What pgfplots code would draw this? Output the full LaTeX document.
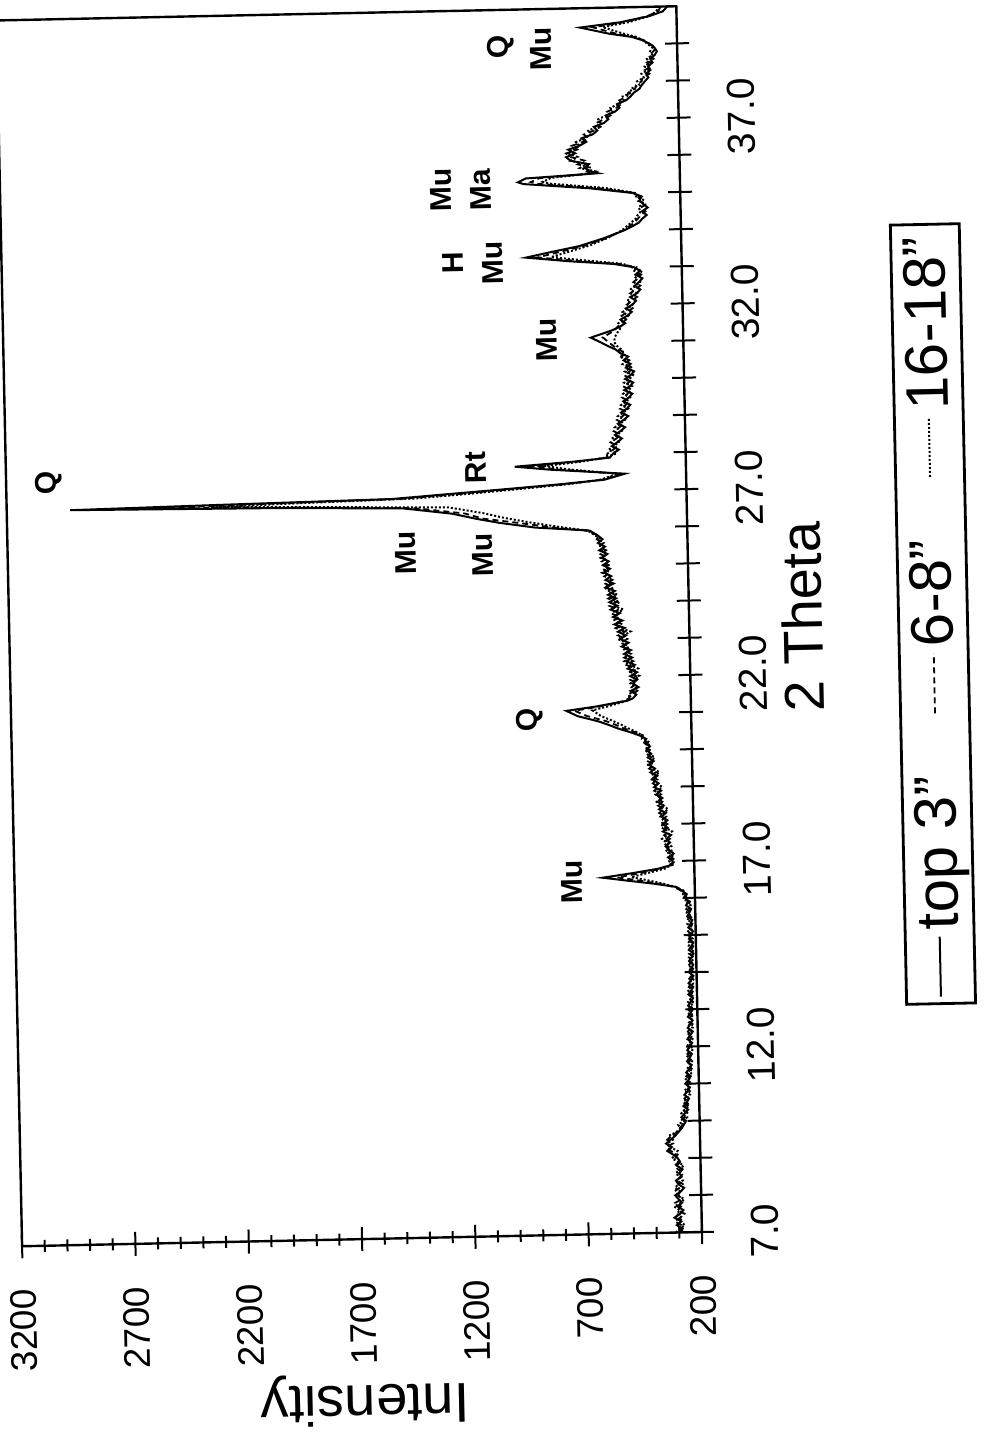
\documentclass[border=0pt]{standalone}
\usepackage{fontspec}
\setmainfont{Liberation Sans}
\usepackage{pgfplots}
\pgfplotsset{compat=1.18}
\usepackage{pgfplotstable}
\usepackage{graphicx}

\pgfplotstableread{
t S D T
7.0 300 280 315
7.1 285 300 295
7.2 310 290 275
7.3 290 320 300
7.4 320 295 285
7.5 295 275 310
7.6 280 305 295
7.7 305 290 320
7.8 285 315 290
7.9 300 285 275
8.0 315 300 305
8.1 290 320 290
8.2 275 295 315
8.3 300 280 300
8.4 310 305 280
8.5 285 290 295
8.6 295 275 310
8.7 280 300 290
8.8 305 315 275
8.9 290 295 300
9.0 300 310 325
9.1 320 300 310
9.2 345 330 300
9.3 325 350 335
9.4 350 320 345
9.5 330 345 320
9.6 310 325 340
9.7 295 300 305
9.8 280 290 285
9.9 270 275 295
10.0 260 285 270
10.1 280 265 255
10.2 265 250 280
10.3 250 275 265
10.4 270 260 245
10.5 255 245 270
10.6 245 265 255
10.7 265 250 240
10.8 250 240 265
10.9 240 260 250
11.0 260 245 235
11.1 245 235 260
11.2 235 255 245
11.3 255 240 230
11.4 240 230 250
11.5 230 250 240
11.6 250 240 228
11.7 238 228 252
11.8 228 248 238
11.9 248 236 226
12.0 236 226 250
12.1 226 246 236
12.2 246 234 224
12.3 234 224 246
12.4 222 244 232
12.5 244 232 222
12.6 232 222 244
12.7 222 242 230
12.8 242 230 220
12.9 230 220 242
13.0 220 240 230
13.1 240 228 218
13.2 228 218 240
13.3 218 238 226
13.4 238 226 216
13.5 226 216 238
13.6 216 236 226
13.7 236 224 216
13.8 224 214 236
13.9 214 234 222
14.0 234 222 214
14.1 222 214 234
14.2 214 232 222
14.3 232 220 212
14.4 220 212 232
14.5 212 232 220
14.6 232 220 212
14.7 220 212 232
14.8 212 232 222
14.9 230 222 214
15.0 220 214 234
15.1 212 234 222
15.2 232 222 214
15.3 222 214 236
15.4 214 236 224
15.5 236 224 216
15.6 226 218 238
15.7 218 240 228
15.8 240 230 220
15.9 230 222 244
16.0 244 250 236
16.1 236 240 252
16.2 258 262 250
16.3 280 290 285
16.4 380 360 340
16.5 500 450 410
16.59 605 541 479
16.7 470 430 400
16.8 360 350 330
16.9 295 310 300
17.0 295 280 310
17.1 315 300 290
17.2 290 320 305
17.3 310 295 325
17.4 325 315 300
17.5 305 335 320
17.6 320 305 340
17.7 300 330 315
17.8 335 310 295
17.9 315 340 325
18.0 335 315 345
18.1 315 340 320
18.2 340 320 345
18.3 320 350 330
18.4 350 330 310
18.5 330 355 340
18.6 355 335 360
18.7 335 360 340
18.8 360 340 365
18.9 340 370 350
19.0 370 350 335
19.1 350 375 360
19.2 375 355 380
19.3 355 385 365
19.4 385 360 345
19.5 365 390 375
19.6 390 370 395
19.7 370 395 380
19.8 395 380 365
19.9 380 400 390
20.0 400 385 405
20.1 385 410 395
20.2 410 395 385
20.3 400 420 410
20.4 430 415 420
20.5 475 455 445
20.6 525 500 480
20.7 565 535 510
20.8 610 575 545
20.95 700 660 600
21.1 750 714 635
21.2 620 600 565
21.34 480 490 480
21.4 455 475 465
21.5 440 460 475
21.6 465 435 450
21.7 430 460 440
21.8 455 435 465
21.9 435 465 445
22.0 465 440 425
22.1 435 470 460
22.2 475 445 430
22.3 445 480 465
22.4 480 450 490
22.5 455 490 460
22.6 490 460 485
22.7 460 495 470
22.8 500 465 495
22.9 470 505 475
23.0 505 475 515
23.1 480 515 490
23.2 515 485 460
23.3 485 525 505
23.4 530 495 525
23.5 495 535 500
23.6 535 505 530
23.7 505 545 515
23.8 545 510 490
23.9 515 550 535
24.0 550 520 505
24.1 520 555 545
24.2 555 525 515
24.3 525 560 550
24.4 565 530 570
24.5 530 565 540
24.6 565 535 560
24.7 540 570 545
24.8 570 545 580
24.9 545 575 555
25.0 575 550 565
25.1 550 580 555
25.2 580 555 585
25.3 555 585 560
25.4 590 560 580
25.5 565 590 570
25.6 595 570 585
25.7 575 600 580
25.8 595 590 605
25.94 631 645 640
26.05 870 800 760
26.2 1030 960 900
26.32 1130 1100 1000
26.47 1235 1180 1100
26.64 1450 1400 1250
26.72 2000 1900 1800
26.78 2920 2550 2300
26.84 2250 2050 1900
26.9 1500 1450 1400
27.0 1250 1200 1150
27.1 1000 960 930
27.2 760 740 720
27.3 560 570 580
27.45 470 490 500
27.6 800 760 720
27.7 955 885 823
27.8 700 680 660
27.89 535 550 560
28.0 520 545 505
28.1 495 520 540
28.2 525 500 515
28.3 500 530 495
28.4 480 505 525
28.5 510 485 500
28.6 485 515 480
28.7 465 490 510
28.8 495 470 485
28.9 470 500 465
29.0 450 475 495
29.1 480 455 470
29.2 455 485 450
29.3 440 460 480
29.4 470 445 455
29.5 445 475 440
29.6 430 450 470
29.7 465 435 445
29.8 440 470 430
29.9 425 445 465
30.0 460 430 440
30.1 435 465 425
30.2 420 440 460
30.3 455 425 435
30.4 435 460 470
30.5 465 440 450
30.6 445 475 480
30.7 480 455 465
30.8 500 490 475
30.9 535 510 495
31.0 565 530 505
31.13 608 555 502
31.3 520 505 485
31.4 480 490 470
31.5 455 470 485
31.6 475 450 460
31.7 445 470 440
31.8 425 445 465
31.9 450 420 440
32.0 420 445 420
32.1 405 425 445
32.2 430 400 420
32.3 400 430 400
32.4 385 405 430
32.5 410 385 405
32.6 390 415 385
32.7 375 395 410
32.8 405 380 390
32.9 385 410 375
33.0 410 400 420
33.1 500 480 460
33.2 700 660 610
33.32 887 834 776
33.45 780 740 700
33.6 650 630 610
33.8 540 530 525
34.0 450 455 460
34.1 415 430 440
34.2 385 405 420
34.3 370 390 400
34.4 350 375 390
34.5 370 355 375
34.6 345 375 385
34.7 365 350 370
34.8 380 395 360
34.9 370 380 395
35.0 410 405 400
35.15 600 560 530
35.3 890 830 780
35.35 915 858 805
35.45 880 820 770
35.55 560 580 590
35.6 590 610 570
35.7 620 590 640
35.8 600 650 610
35.9 680 620 680
36.0 700 680 650
36.1 660 700 690
36.2 690 650 665
36.3 640 675 640
36.4 610 625 655
36.5 630 600 615
36.6 580 620 590
36.7 560 575 600
36.8 575 545 560
36.9 530 565 545
37.0 510 530 555
37.1 520 500 520
37.2 480 515 490
37.3 460 475 500
37.4 470 450 465
37.5 430 460 440
37.6 410 425 445
37.7 395 420 405
37.8 370 390 410
37.9 360 385 370
38.0 345 360 380
38.1 330 355 350
38.2 340 325 360
38.3 320 345 330
38.4 330 315 345
38.5 310 335 320
38.6 320 305 335
38.7 300 325 310
38.8 290 305 320
38.9 300 295 310
39.0 320 320 330
39.1 350 345 350
39.2 400 390 380
39.3 500 470 440
39.48 627 570 527
39.6 450 430 410
39.75 320 330 320
39.87 260 280 290
40.0 240 270 275
}\xrd

\begin{document}
\rotatebox{91.2}{%
\begin{tikzpicture}
\begin{axis}[
  at={(0pt,0pt)}, anchor=south west,
  scale only axis,
  width=613pt, height=340pt,
  xmin=7, xmax=40, ymin=200, ymax=3200,
  axis line style={line width=1.2pt},
  tick style={line width=1pt, black},
  tick align=center,
  tick pos=left,
  xtick={7,8,...,39},
  xticklabels={7.0,,,,,12.0,,,,,17.0,,,,,22.0,,,,,27.0,,,,,32.0,,,,,37.0,,},
  ytick={200,700,1200,1700,2200,2700,3200},
  yticklabels={200,700,1200,1700,2200,2700,3200},
  minor y tick num=4,
  major tick length=12pt,
  minor tick length=6pt,
  x tick label style={font=\fontsize{19.5}{20}\selectfont, yshift=-15pt},
  y tick label style={font=\fontsize{18.5}{20}\selectfont, xshift=-12pt},
  xlabel={2 Theta},
  ylabel={Intensity},
  x label style={font=\fontsize{28}{30}\selectfont, at={([yshift=-56.5pt]axis description cs:0.5,0)}, anchor=center},
  y label style={font=\fontsize{28}{30}\selectfont, at={([xshift=-80.5pt]axis description cs:0,0.5)}, anchor=center},
  legend columns=-1,
  legend style={at={([yshift=-104pt]axis description cs:0.5,0)}, anchor=north, draw=black, line width=1.4pt, font=\fontsize{30}{32}\selectfont, inner sep=3pt, nodes={inner sep=3pt}, /tikz/every even column/.append style={column sep=28pt}},
  legend image code/.code={\draw[#1] (0pt,0pt) -- (30pt,0pt);},
]
\addplot[black, line width=1pt] table[x=t, y=S] {\xrd};
\addlegendentry{top 3"}
\addplot[black, line width=0.9pt, densely dashed] table[x=t, y=D] {\xrd};
\addlegendentry{6-8"}
\addplot[black, line width=1pt, densely dotted] table[x=t, y=T] {\xrd};
\addlegendentry{16-18"}

\begin{scope}[every node/.style={font=\bfseries\fontsize{15}{16}\selectfont}]
\node at (axis cs:16.5,740) {Mu};
\node at (axis cs:20.88,913) {Q};
\node at (axis cs:25.33,1105) {Mu};
\node at (axis cs:25.45,1445) {Mu};
\node at (axis cs:27.52,3012) {Q};
\node at (axis cs:27.7,1127) {Rt};
\node at (axis cs:31.1,802) {Mu};
\node at (axis cs:33.23,1209) {H};
\node at (axis cs:33.18,1033) {Mu};
\node at (axis cs:35.18,1255) {Mu};
\node at (axis cs:35.16,1079) {Ma};
\node at (axis cs:38.99,977) {Q};
\node at (axis cs:38.93,801) {Mu};
\end{scope}
\end{axis}
\pgfresetboundingbox
\path[use as bounding box] (-94.44pt,-141.05pt) rectangle (613.18pt,338.23pt);
\end{tikzpicture}}
\end{document}
